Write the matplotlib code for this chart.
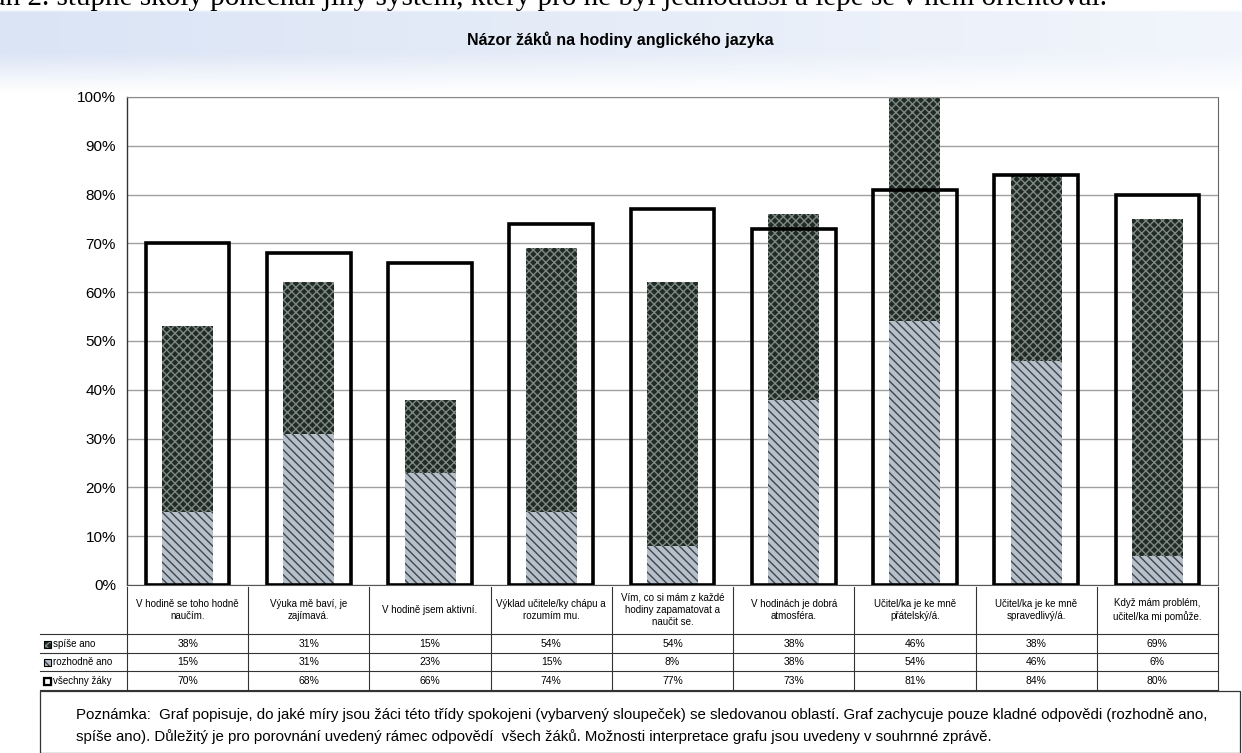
import numpy as np
import matplotlib
matplotlib.use("Agg")
import matplotlib.pyplot as plt
from matplotlib.patches import Rectangle
from matplotlib.lines import Line2D

plt.rcParams['font.family'] = ['Liberation Sans', 'DejaVu Sans']
plt.rcParams['hatch.linewidth'] = 1.0

# ---------------- data ----------------
categories = [
    "V hodině se toho hodně\nnaučím.",
    "Výuka mě baví, je\nzajímavá.",
    "V hodině jsem aktivní.",
    "Výklad učitele/ky chápu a\nrozumím mu.",
    "Vím, co si mám z každé\nhodiny zapamatovat a\nnaučit se.",
    "V hodinách je dobrá\natmosféra.",
    "Učitel/ka je ke mně\npřátelský/á.",
    "Učitel/ka je ke mně\nspravedlivý/á.",
    "Když mám problém,\nučitel/ka mi pomůže.",
]
spise_ano = [38, 31, 15, 54, 54, 38, 46, 38, 69]
rozhodne_ano = [15, 31, 23, 15, 8, 38, 54, 46, 6]
vsechny_zaky = [70, 68, 66, 74, 77, 73, 81, 84, 80]
row_labels = ["spíše ano", "rozhodně ano", "všechny žáky"]
y_ticks = [0, 10, 20, 30, 40, 50, 60, 70, 80, 90, 100]

title = "Názor žáků na hodiny anglického jazyka"
note = ("Poznámka:  Graf popisuje, do jaké míry jsou žáci této třídy spokojeni (vybarvený sloupeček) se sledovanou oblastí. "
        "Graf zachycuje pouze kladné odpovědi (rozhodně ano,\n"
        "spíše ano). Důležitý je pro porovnání uvedený rámec odpovědí  všech žáků. "
        "Možnosti interpretace grafu jsou uvedeny v souhrnné zprávě.")
top_text = "plán 2. stupně školy ponechal jiný systém, který pro ně byl jednodušší a lépe se v něm orientoval."

# ---------------- figure ----------------
W, H = 1242, 753
fig = plt.figure(figsize=(W / 100, H / 100), dpi=100)
fig.patch.set_facecolor("white")


def fx(x):
    return x / W


def fy(y):
    return 1 - y / H


# background blue band (scan artefact)
bg = fig.add_axes([0, 0, 1, 1], zorder=-5)
bg.set_axis_off()
grad = np.ones((H, W, 4))
xs = np.linspace(0, 1, W)
ys = np.arange(H)
col = np.array([0.74, 0.81, 0.93])
alpha_x = 0.55 - 0.35 * xs
alpha_y = np.clip((ys - 9) / 3, 0, 1) * np.clip((92 - ys) / 40, 0, 1)
a = alpha_y[:, None] * alpha_x[None, :]
grad[..., :3] = col
grad[..., 3] = a
bg.imshow(grad, extent=[0, 1, 0, 1], aspect="auto")
bg.set_xlim(0, 1)
bg.set_ylim(0, 1)

# cut-off text at the top (as in the scanned reference)
fig.text(fx(-30), fy(5), top_text, family="Liberation Serif", fontsize=21,
         va="baseline", ha="left", color="black")

# title
fig.text(fx(620), fy(40), title, fontsize=11.5, fontweight="bold", ha="center", va="center")

# ---------------- main axes ----------------
left, right, top, bottom = 127, 1218, 97, 585
ax = fig.add_axes([fx(left), fy(bottom), fx(right - left), (bottom - top) / H])
ax.set_facecolor("none")
n = len(categories)
x = np.arange(n)
rozh = np.array(rozhodne_ano) / 100
spis = np.array(spise_ano) / 100
vse = np.array(vsechny_zaky) / 100

ax.bar(x, rozh, width=0.42, facecolor="#b7bfc9", edgecolor="#3c4650",
       hatch="\\\\\\\\", linewidth=0, zorder=2)
ax.bar(x, spis, bottom=rozh, width=0.42, facecolor="#222a26", edgecolor="#7d8a83",
       hatch="xxxx", linewidth=0, zorder=2)
ax.bar(x, vse, width=0.69, fill=False, edgecolor="black", linewidth=2.6, zorder=4)

ax.set_xlim(-0.5, n - 0.5)
ax.set_ylim(0, 1.0)
ax.set_yticks(np.array(y_ticks) / 100)
ax.set_yticklabels([f"{t}%" for t in y_ticks], fontsize=11)
ax.tick_params(axis="y", length=0, pad=8)
ax.set_xticks([])
ax.yaxis.grid(True, color="#a0a0a0", linewidth=1.0, zorder=0)
ax.set_axisbelow(True)
ax.spines["left"].set_color("#333333")
ax.spines["left"].set_linewidth(1.0)
ax.spines["top"].set_color("#8a8a8a")
ax.spines["right"].set_color("#666666")
ax.spines["bottom"].set_color("#555555")

# ---------------- table under the chart ----------------
col_w = (right - left) / n
lc = "#333333"
for i in range(n + 1):
    xv = left + i * col_w
    fig.add_artist(Line2D([fx(xv), fx(xv)], [fy(587), fy(690)], color=lc, lw=0.8))
for yh in [634, 653, 671, 690]:
    fig.add_artist(Line2D([fx(40), fx(right)], [fy(yh), fy(yh)], color=lc, lw=0.8))

for i, lab in enumerate(categories):
    xc = left + (i + 0.5) * col_w
    fig.text(fx(xc), fy(610), lab, fontsize=7, ha="center", va="center", linespacing=1.3)

rows = [spise_ano, rozhodne_ano, vsechny_zaky]
row_y = [644, 662, 681]
for vals, yr in zip(rows, row_y):
    for i, v in enumerate(vals):
        xc = left + (i + 0.5) * col_w
        fig.text(fx(xc), fy(yr), f"{v}%", fontsize=7.5, ha="center", va="center")

key_styles = [
    dict(facecolor="#222a26", edgecolor="#7d8a83", hatch="xxxx"),
    dict(facecolor="#b7bfc9", edgecolor="#3c4650", hatch="\\\\\\\\"),
    dict(facecolor="white", edgecolor="black", hatch=None),
]
for lab, yr, st in zip(row_labels, row_y, key_styles):
    r = Rectangle((fx(44), fy(yr + 4)), fx(7), 7 / H, transform=fig.transFigure,
                  linewidth=1.6 if st["hatch"] is None else 0, **st)
    fig.add_artist(r)
    fig.add_artist(Rectangle((fx(44), fy(yr + 4)), fx(7), 7 / H, transform=fig.transFigure,
                             fill=False, edgecolor="black", linewidth=0.8))
    fig.text(fx(53), fy(yr), lab, fontsize=7, ha="left", va="center")

# ---------------- note box ----------------
fig.add_artist(Rectangle((fx(40), fy(753)), fx(1200), (753 - 691) / H,
                         transform=fig.transFigure, fill=False, edgecolor="#333333", linewidth=0.9))
fig.text(fx(76), fy(726), note, fontsize=10.8, ha="left", va="center", linespacing=1.6)

fig.savefig("out.png", dpi=100)
